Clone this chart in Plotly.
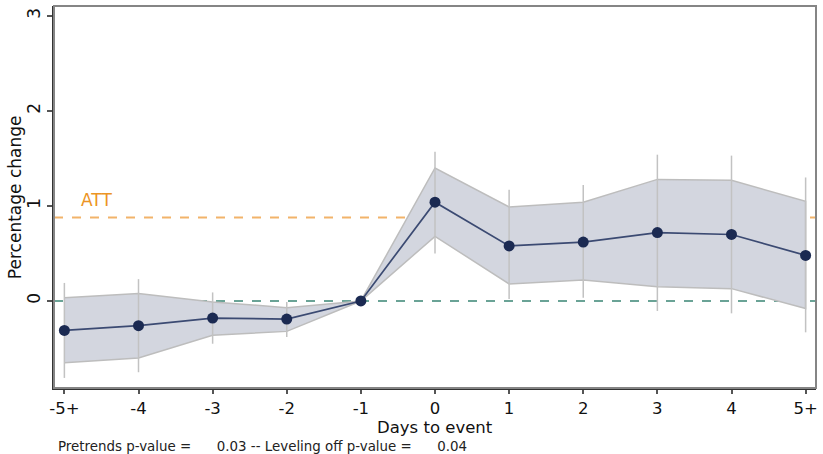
import plotly.graph_objects as go

# Event-study estimates by day relative to the event
day_labels = ["-5+", "-4", "-3", "-2", "-1", "0", "1", "2", "3", "4", "5+"]
estimate = [-0.31, -0.26, -0.18, -0.19, 0.0, 1.04, 0.58, 0.62, 0.72, 0.70, 0.48]
# Shaded confidence band
band_low = [-0.65, -0.60, -0.36, -0.32, 0.0, 0.68, 0.18, 0.22, 0.15, 0.13, -0.08]
band_high = [0.035, 0.08, -0.01, -0.07, 0.0, 1.40, 0.99, 1.04, 1.28, 1.27, 1.05]
# Vertical interval lines
ci_low = [-0.81, -0.75, -0.45, -0.38, 0.0, 0.50, 0.02, 0.035, -0.105, -0.13, -0.33]
ci_high = [0.19, 0.23, 0.09, -0.01, 0.0, 1.57, 1.17, 1.22, 1.54, 1.53, 1.30]
att_value = 0.88
pretrends_p = 0.03
leveling_p = 0.04

xpos = list(range(len(day_labels)))
font_family = "DejaVu Sans"

fig = go.Figure()

# Confidence band as a closed polygon
fig.add_trace(go.Scatter(
    x=xpos + xpos[::-1],
    y=band_high + band_low[::-1],
    fill="toself",
    fillcolor="#d3d6df",
    line=dict(color="#bdbdbd", width=1.5),
    mode="lines",
    hoverinfo="skip",
    showlegend=False,
))

# Interval whiskers
wx, wy = [], []
for x, lo, hi in zip(xpos, ci_low, ci_high):
    wx += [x, x, None]
    wy += [lo, hi, None]
fig.add_trace(go.Scatter(
    x=wx, y=wy, mode="lines",
    line=dict(color="#c2c2c2", width=1.5),
    hoverinfo="skip", showlegend=False,
))

# Point estimates
fig.add_trace(go.Scatter(
    x=xpos, y=estimate, mode="lines+markers",
    line=dict(color="#3b4a72", width=1.7),
    marker=dict(color="#1b2a52", size=11),
    showlegend=False,
))

# Reference lines: zero and ATT
fig.add_shape(type="line", xref="paper", yref="y", x0=0, x1=1,
              y0=0, y1=0, layer="below",
              line=dict(color="#6aa396", width=2, dash="dash"))
fig.add_shape(type="line", xref="paper", yref="y", x0=0, x1=1,
              y0=att_value, y1=att_value, layer="below",
              line=dict(color="#f2b36a", width=2, dash="dash"))

# Frame around the plot area
fig.add_shape(type="rect", xref="paper", yref="paper", x0=0, x1=1, y0=0, y1=1,
              line=dict(color="#858585", width=2), layer="above")

fig.add_annotation(x=0.2, y=att_value + 0.06, xref="x", yref="y",
                   text="ATT", showarrow=False, xanchor="left", yanchor="bottom",
                   font=dict(color="#ec9424", size=17, family=font_family))

# Axis titles
fig.add_annotation(x=0.5, y=-0.104, xref="paper", yref="paper",
                   text="Days to event", showarrow=False,
                   xanchor="center", yanchor="middle",
                   font=dict(color="#111111", size=16.5, family=font_family))
fig.add_annotation(x=-0.051, y=0.5, xref="paper", yref="paper",
                   text="Percentage change", showarrow=False, textangle=-90,
                   xanchor="center", yanchor="middle",
                   font=dict(color="#111111", size=17, family=font_family))

gap = "&nbsp;" * 6
fig.add_annotation(
    x=0.003, y=-0.153, xref="paper", yref="paper",
    text=f"Pretrends p-value ={gap}{pretrends_p:.2f} -- Leveling off p-value ={gap}{leveling_p:.2f}",
    showarrow=False, xanchor="left", yanchor="middle",
    font=dict(color="#222222", size=13.4, family=font_family))

fig.update_layout(
    width=823, height=454,
    margin=dict(l=54, r=5, t=6, b=66),
    paper_bgcolor="white", plot_bgcolor="white",
    font=dict(family=font_family, color="#111111"),
    xaxis=dict(
        range=[-0.14, 10.14],
        tickvals=xpos, ticktext=day_labels,
        ticks="outside", ticklen=4, tickwidth=1.5, tickcolor="#555555",
        showgrid=False, zeroline=False,
        showline=True, linecolor="#333333", linewidth=1.5,
        tickfont=dict(size=16.5),
    ),
    yaxis=dict(
        range=[-0.916, 3.105],
        tickvals=[0, 1, 2, 3],
        ticks="outside", ticklen=5, tickwidth=1.5, tickcolor="#555555",
        tickangle=-90,
        showgrid=False, zeroline=False,
        showline=True, linecolor="#333333", linewidth=1.5,
        tickfont=dict(size=17),
    ),
)

fig.write_html("out.html")
